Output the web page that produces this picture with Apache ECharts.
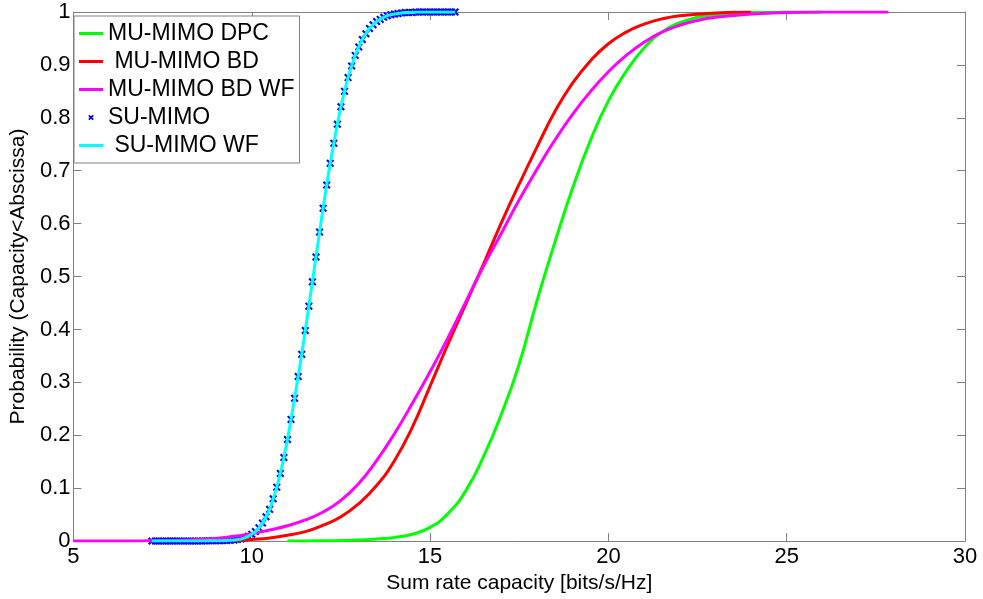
<!DOCTYPE html>
<html><head><meta charset="utf-8">
<script src="https://cdn.jsdelivr.net/npm/echarts@6/dist/echarts.min.js"></script>
<style>html,body{margin:0;padding:0;background:#fff}#c{width:983px;height:599px}</style>
</head><body><div id="c"></div>
<script>
const seriesNames = ['MU-MIMO DPC', ' MU-MIMO BD', 'MU-MIMO BD WF', 'SU-MIMO', ' SU-MIMO WF'];
const seriesColors = ['#00ff00', '#ff0000', '#ff00ff', '#0000ff', '#00ffff'];
const xAxisTitle = 'Sum rate capacity [bits/s/Hz]';
const yAxisTitle = 'Probability (Capacity<Abscissa)';

const dpcX = [11,12,13,13.5,14,14.5,15,15.5,16,16.5,17,17.5,18,18.5,19,19.5,20,20.5,21,21.5,22,22.5,23,24,25,26];
const dpcY = [0,0.0005,0.002,0.004,0.007,0.013,0.026,0.052,0.095,0.16,0.24,0.335,0.455,0.565,0.668,0.758,0.832,0.888,0.932,0.962,0.98,0.99,0.995,0.999,1,1];

const bdX = [9.4,10,10.5,11,11.5,12,12.5,13,13.5,14,14.5,15,15.5,16,16.5,17,17.5,18,18.5,19,19.5,20,20.5,21,21.5,22,23,24];
const bdY = [0,0.003,0.006,0.011,0.018,0.03,0.046,0.071,0.105,0.152,0.215,0.293,0.372,0.448,0.524,0.602,0.675,0.745,0.812,0.866,0.908,0.94,0.962,0.977,0.987,0.993,0.998,1];

const bdWfX = [5,6,7,7.5,8,8.5,9,9.5,10,10.5,11,11.5,12,12.5,13,13.5,14,14.5,15,15.5,16,16.5,17,17.5,18,18.5,19,19.5,20,20.5,21,21.5,22,22.5,23,24,25,26,27.85];
const bdWfY = [0,0,0.0005,0.001,0.0015,0.003,0.005,0.009,0.014,0.021,0.029,0.04,0.055,0.077,0.109,0.152,0.203,0.26,0.32,0.384,0.452,0.52,0.582,0.645,0.703,0.758,0.807,0.85,0.887,0.918,0.943,0.962,0.975,0.984,0.99,0.996,0.999,1,1];

const suX = [7.2,7.3,7.4,7.5,7.6,7.7,7.8,7.9,8.0,8.1,8.2,8.3,8.4,8.5,8.6,8.7,8.8,8.9,
  9.0,9.1,9.2,9.3,9.4,9.5,9.6,9.7,9.8,9.9,10.0,10.1,10.2,10.3,10.4,10.5,10.6,10.7,10.8,10.9,
  11.0,11.1,11.2,11.3,11.4,11.5,11.6,11.7,11.8,11.9,12.0,12.1,12.2,12.3,12.4,12.5,12.6,12.7,12.8,12.9,
  13.0,13.1,13.2,13.3,13.4,13.5,13.6,13.7,13.8,13.9,14.0,14.1,14.2,14.3,14.4,14.5,14.6,14.7,14.8,14.9,
  15.0,15.1,15.2,15.3,15.4,15.5,15.6,15.7];
const suY = [0,0,0,0,0,0,0,0,0,0,0,0,0,0.0002,0.0003,0.0004,0.0005,0.0005,
  0.0006,0.0008,0.001,0.0013,0.0016,0.002,0.003,0.004,0.006,0.009,0.013,0.018,0.025,0.034,0.046,0.06,0.08,0.102,0.128,0.158,
  0.192,0.23,0.27,0.311,0.353,0.398,0.444,0.49,0.537,0.584,0.629,0.673,0.714,0.752,0.788,0.821,0.85,0.876,0.898,0.918,
  0.934,0.948,0.959,0.969,0.976,0.982,0.986,0.99,0.993,0.995,0.996,0.997,0.998,0.999,0.999,0.999,1,1,1,1,
  1,1,1,1,1,1,1,1];
const suWfX = suX;
const suWfY = suY;

const FONT = '"Liberation Sans", Arial, Helvetica, sans-serif';
const GRAY = '#808080';
const pair = (xs, ys) => xs.map((x, i) => [x, ys[i]]);
const starPath = 'path://M0,1.8L1.8,0L5,3.2L8.2,0L10,1.8L6.8,5L10,8.2L8.2,10L5,6.8L1.8,10L0,8.2L3.2,5Z';
const legendStar = 'path://M0,0M24,14M9.2,5.4L10.4,4.2L14.8,8.6L13.6,9.8ZM13.6,4.2L14.8,5.4L10.4,9.8L9.2,8.6Z';
const legendLine = 'path://M0,0M24,14M0,5.5L24,5.5L24,8.5L0,8.5Z';

function boxAxis(pos, min, max, interval, extra) {
  return Object.assign({
    type: 'value', position: pos, min: min, max: max, interval: interval,
    axisLine: { show: true, onZero: false, lineStyle: { color: GRAY, width: 1 } },
    axisTick: { show: true, inside: true, length: 8, lineStyle: { color: GRAY } },
    axisLabel: { show: false },
    splitLine: { show: false }
  }, extra || {});
}

function lineSeries(i, xs, ys) {
  return { name: seriesNames[i], type: 'line', data: pair(xs, ys), smooth: 0.5,
    symbol: 'none', lineStyle: { color: seriesColors[i], width: 3 }, itemStyle: { color: seriesColors[i] } };
}

const chart = echarts.init(document.getElementById('c'), null, { renderer: 'canvas' });
chart.setOption({
  animation: false,
  backgroundColor: '#fff',
  textStyle: { fontFamily: FONT },
  grid: { left: 70, right: 18, top: 12, bottom: 54, containLabel: false },
  xAxis: [
    boxAxis('bottom', 5, 30, 5, {
      axisLabel: { show: true, color: '#000', fontSize: 22, margin: 5, fontFamily: FONT },
      name: xAxisTitle, nameLocation: 'middle', nameGap: 26,
      nameTextStyle: { color: '#000', fontSize: 21, fontFamily: FONT }
    }),
    boxAxis('top', 5, 30, 5)
  ],
  yAxis: [
    boxAxis('left', 0, 1, 0.1, {
      axisLabel: { show: true, color: '#000', fontSize: 22, margin: 3, fontFamily: FONT },
      name: yAxisTitle, nameLocation: 'middle', nameGap: 39,
      nameTextStyle: { color: '#000', fontSize: 21, fontFamily: FONT }
    }),
    boxAxis('right', 0, 1, 0.1)
  ],
  legend: {
    orient: 'vertical', left: 74, top: 16,
    padding: [6, 5, 6, 5], itemGap: 5, itemWidth: 24, itemHeight: 14,
    backgroundColor: '#fff', borderColor: GRAY, borderWidth: 1, borderRadius: 0,
    textStyle: { color: '#000', fontSize: 23, lineHeight: 23, fontFamily: FONT },
    data: [
      { name: seriesNames[0], icon: legendLine },
      { name: seriesNames[1], icon: legendLine },
      { name: seriesNames[2], icon: legendLine },
      { name: seriesNames[3], icon: legendStar },
      { name: seriesNames[4], icon: legendLine }
    ]
  },
  series: [
    lineSeries(0, dpcX, dpcY),
    lineSeries(1, bdX, bdY),
    lineSeries(2, bdWfX, bdWfY),
    { name: seriesNames[3], type: 'scatter', data: pair(suX, suY), symbol: starPath, symbolSize: 8,
      itemStyle: { color: seriesColors[3], opacity: 1 } },
    lineSeries(4, suWfX, suWfY)
  ]
});
</script></body></html>
